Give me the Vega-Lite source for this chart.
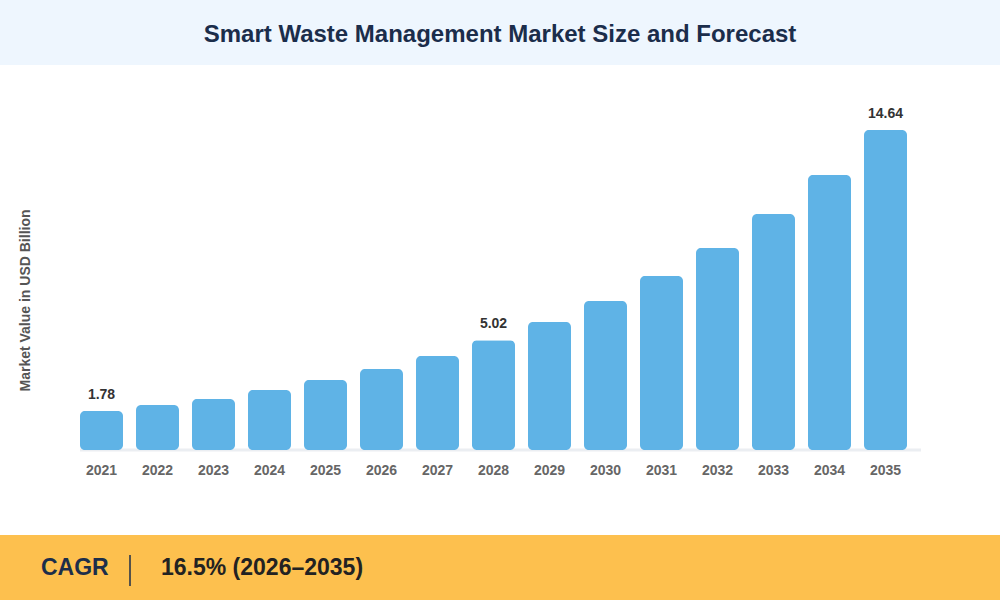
{
  "$schema": "https://vega.github.io/schema/vega-lite/v6.json",
  "description": "Smart Waste Management Market Size and Forecast",
  "padding": 0,
  "background": "#ffffff",
  "bounds": "flush",
  "spacing": 85,
  "config": {"view": {"stroke": null}, "font": "Liberation Sans"},
  "vconcat": [
    {
      "width": 1000,
      "height": 450,
      "view": {
        "stroke": null,
        "fill": {
          "gradient": "linear", "x1": 0, "y1": 0, "x2": 0, "y2": 1,
          "stops": [
            {"offset": 0, "color": "#EEF6FE"},
            {"offset": 0.1444, "color": "#EEF6FE"},
            {"offset": 0.1444, "color": "#FFFFFF"},
            {"offset": 1, "color": "#FFFFFF"}
          ]
        }
      },
      "data": {
        "values": [
          {"year": "2021", "value": 1.78},
          {"year": "2022", "value": 2.06},
          {"year": "2023", "value": 2.33},
          {"year": "2024", "value": 2.74},
          {"year": "2025", "value": 3.2},
          {"year": "2026", "value": 3.71},
          {"year": "2027", "value": 4.3},
          {"year": "2028", "value": 5.02},
          {"year": "2029", "value": 5.86},
          {"year": "2030", "value": 6.82},
          {"year": "2031", "value": 7.96},
          {"year": "2032", "value": 9.24},
          {"year": "2033", "value": 10.8},
          {"year": "2034", "value": 12.58},
          {"year": "2035", "value": 14.64}
        ]
      },
      "layer": [
        {
          "data": {"values": [{}]},
          "mark": {"type": "rule", "color": "#EBEEF2", "strokeWidth": 3, "x2Offset": 14},
          "encoding": {
            "x": {"datum": "2021", "type": "ordinal", "bandPosition": 0},
            "x2": {"datum": "2035", "bandPosition": 1},
            "y": {"datum": 0, "type": "quantitative"}
          }
        },
        {
          "mark": {"type": "bar", "color": "#5FB3E6", "cornerRadius": 5},
          "encoding": {
            "x": {
              "field": "year",
              "type": "ordinal",
              "scale": {"range": [73.5, 913.5], "paddingInner": 0.232, "paddingOuter": 0.116},
              "axis": {
                "title": null,
                "domain": false,
                "ticks": false,
                "tickSize": 0,
                "labelAngle": 0,
                "labelAlign": "center",
                "labelBaseline": "top",
                "labelPadding": 13,
                "labelFontSize": 14,
                "labelFontWeight": "bold",
                "labelColor": "#666666"
              }
            },
            "y": {
              "field": "value",
              "type": "quantitative",
              "scale": {"domain": [0, 20.59], "nice": false},
              "axis": {
                "title": "Market Value in USD Billion",
                "labels": false,
                "ticks": false,
                "domain": false,
                "grid": false,
                "titleX": 25,
                "titleY": 300,
                "titleAngle": -90,
                "titleAlign": "center",
                "titleBaseline": "middle",
                "titleFontSize": 14,
                "titleFontWeight": "bold",
                "titleColor": "#555555"
              }
            }
          }
        },
        {
          "transform": [{"filter": {"field": "year", "oneOf": ["2021", "2028", "2035"]}}],
          "mark": {"type": "text", "baseline": "alphabetic", "dy": -12, "fontSize": 14, "fontWeight": "bold", "color": "#333333"},
          "encoding": {
            "x": {"field": "year", "type": "ordinal"},
            "y": {"field": "value", "type": "quantitative"},
            "text": {"field": "value", "type": "quantitative", "format": ".2f"}
          }
        },
        {
          "data": {"values": [{}]},
          "mark": {"type": "text", "text": "Smart Waste Management Market Size and Forecast", "baseline": "alphabetic", "align": "center", "fontSize": 24, "fontWeight": "bold", "color": "#1B2D4B"},
          "encoding": {"y": {"value": 42}}
        }
      ]
    },
    {
      "width": 1000,
      "height": 65,
      "view": {"fill": "#FDC04E", "stroke": null},
      "data": {"values": [{}]},
      "layer": [
        {
          "mark": {"type": "text", "text": "CAGR", "align": "left", "baseline": "alphabetic", "fontSize": 23, "fontWeight": "bold", "color": "#1C2E4A"},
          "encoding": {"x": {"value": 41}, "y": {"value": 40}}
        },
        {
          "mark": {"type": "rule", "color": "#1C2E4A", "strokeWidth": 1.5},
          "encoding": {"x": {"value": 130}, "y": {"value": 20}, "y2": {"value": 51}}
        },
        {
          "mark": {"type": "text", "text": "16.5% (2026–2035)", "align": "left", "baseline": "alphabetic", "fontSize": 23, "fontWeight": "bold", "color": "#222222"},
          "encoding": {"x": {"value": 161}, "y": {"value": 40}}
        }
      ]
    }
  ]
}
